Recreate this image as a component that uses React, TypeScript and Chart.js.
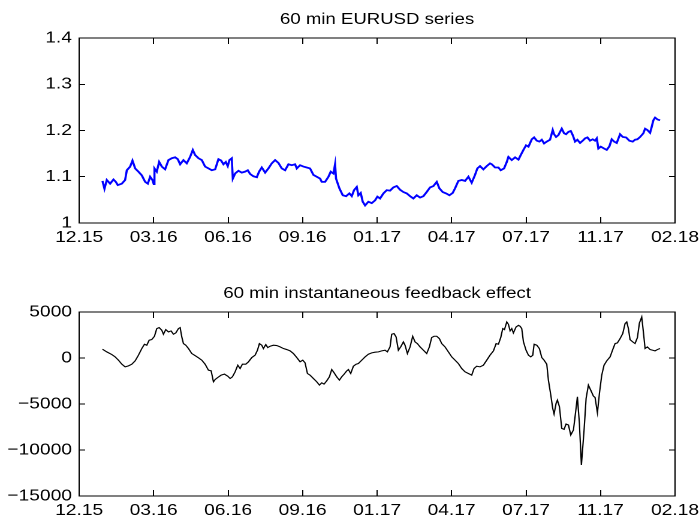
import React, { useEffect, useRef } from 'react';
import { Chart, registerables } from 'chart.js';

Chart.register(...registerables);

// x-axis tick labels (evenly spaced positions 0..8)
const dateLabels = ['12.15', '03.16', '06.16', '09.16', '01.17', '04.17', '07.17', '11.17', '02.18'];

// ---- 60 min EURUSD series ----
const eurusdTime = [
  0.313, 0.340, 0.371, 0.416, 0.461, 0.492, 0.519, 0.573, 0.617, 0.640, 0.685, 0.716, 0.752, 0.796, 0.841,
  0.886, 0.922, 0.953, 0.984, 1.002, 1.011, 1.042, 1.074, 1.110, 1.154, 1.199, 1.244, 1.289, 1.324, 1.356,
  1.400, 1.445, 1.490, 1.526, 1.557, 1.602, 1.647, 1.691, 1.736, 1.781, 1.826, 1.870, 1.906, 1.937, 1.969,
  1.995, 2.018, 2.049, 2.063, 2.094, 2.139, 2.183, 2.228, 2.264, 2.295, 2.340, 2.385, 2.416, 2.452, 2.497,
  2.541, 2.586, 2.631, 2.675, 2.720, 2.765, 2.810, 2.855, 2.899,
  2.922, 2.966, 3.011, 3.056, 3.100, 3.145, 3.190, 3.235, 3.257, 3.302, 3.347, 3.378, 3.414, 3.436, 3.449,
  3.494, 3.539, 3.584, 3.628, 3.660, 3.691, 3.727, 3.749, 3.780, 3.807, 3.839, 3.883, 3.928, 3.973, 4.004,
  4.040, 4.085, 4.129, 4.174, 4.219, 4.264, 4.308, 4.353, 4.398, 4.443, 4.487, 4.532, 4.577, 4.622, 4.666,
  4.711, 4.756, 4.801, 4.836, 4.881, 4.926, 4.971, 5.015, 5.047, 5.091, 5.136, 5.181, 5.226, 5.270, 5.315,
  5.346, 5.382, 5.427, 5.472, 5.516,
  5.540, 5.584, 5.629, 5.660, 5.705, 5.741, 5.763, 5.808, 5.853, 5.898, 5.929, 5.965, 6.000, 6.032, 6.077,
  6.108, 6.144, 6.179, 6.211, 6.242, 6.278, 6.322, 6.358, 6.376, 6.403, 6.434, 6.479, 6.510, 6.537, 6.569,
  6.600, 6.627, 6.658, 6.689, 6.725, 6.761, 6.792, 6.824, 6.859, 6.895, 6.926, 6.949, 6.971, 7.003, 7.047,
  7.083, 7.119, 7.150, 7.182, 7.217, 7.262, 7.298, 7.343, 7.387, 7.432, 7.463, 7.495, 7.531, 7.575, 7.598,
  7.629, 7.665, 7.687, 7.709, 7.732, 7.763, 7.799,
];
const eurusdRate = [
  1.091, 1.074, 1.093, 1.085, 1.094, 1.089, 1.082, 1.085, 1.093, 1.114, 1.122, 1.135, 1.118, 1.111, 1.103,
  1.089, 1.085, 1.100, 1.093, 1.084, 1.118, 1.111, 1.132, 1.122, 1.116, 1.136, 1.140, 1.142, 1.138, 1.127,
  1.136, 1.129, 1.143, 1.158, 1.147, 1.140, 1.136, 1.122, 1.118, 1.114, 1.116, 1.138, 1.135, 1.127, 1.132,
  1.123, 1.136, 1.140, 1.096, 1.107, 1.113, 1.109, 1.111, 1.114, 1.106, 1.101, 1.099, 1.111, 1.120, 1.109,
  1.118, 1.129, 1.136, 1.130, 1.118, 1.114, 1.127, 1.125, 1.127,
  1.118, 1.125, 1.122, 1.120, 1.118, 1.104, 1.100, 1.096, 1.089, 1.089, 1.100, 1.111, 1.107, 1.127, 1.096,
  1.075, 1.060, 1.058, 1.064, 1.058, 1.071, 1.078, 1.060, 1.065, 1.046, 1.038, 1.046, 1.043, 1.049, 1.057,
  1.053, 1.064, 1.071, 1.070, 1.077, 1.080, 1.072, 1.067, 1.064, 1.058, 1.053, 1.060, 1.055, 1.058, 1.067,
  1.077, 1.080, 1.089, 1.075, 1.067, 1.064, 1.060, 1.065, 1.075, 1.091, 1.093, 1.091, 1.100, 1.087, 1.104,
  1.118, 1.123, 1.116, 1.123, 1.129,
  1.127, 1.120, 1.120, 1.114, 1.118, 1.132, 1.143, 1.136, 1.142, 1.137, 1.147, 1.158, 1.168, 1.165, 1.181,
  1.185, 1.178, 1.176, 1.180, 1.172, 1.176, 1.180, 1.201, 1.192, 1.186, 1.190, 1.204, 1.194, 1.192, 1.197,
  1.199, 1.190, 1.176, 1.180, 1.173, 1.178, 1.183, 1.185, 1.178, 1.181, 1.178, 1.183, 1.161, 1.165, 1.161,
  1.158, 1.166, 1.181, 1.176, 1.173, 1.192, 1.186, 1.185, 1.178, 1.176, 1.180, 1.181, 1.186, 1.194, 1.204,
  1.201, 1.195, 1.208, 1.222, 1.228, 1.224, 1.222,
];

// ---- 60 min instantaneous feedback effect ----
const feedbackTime = [
  0.313, 0.371, 0.439, 0.483, 0.528, 0.573, 0.617, 0.662, 0.707, 0.752, 0.796, 0.841, 0.877, 0.908, 0.940,
  0.975, 1.011, 1.042, 1.074, 1.110, 1.132, 1.163, 1.199, 1.235, 1.266, 1.298, 1.333, 1.356, 1.378, 1.400,
  1.432, 1.468, 1.512, 1.548, 1.602, 1.647, 1.691, 1.736, 1.772, 1.803, 1.826, 1.861, 1.906, 1.951, 1.995,
  2.027, 2.058, 2.094, 2.130, 2.161, 2.192, 2.237, 2.273, 2.318, 2.362, 2.394, 2.420, 2.452, 2.474, 2.506,
  2.532, 2.564, 2.608, 2.653, 2.698, 2.743, 2.787, 2.832,
  2.877, 2.922, 2.966, 3.002, 3.033, 3.065, 3.100, 3.145, 3.190, 3.226, 3.257, 3.288, 3.324, 3.360, 3.391,
  3.423, 3.458, 3.494, 3.525, 3.557, 3.593, 3.615, 3.646, 3.682, 3.718, 3.749, 3.794, 3.839, 3.883, 3.928,
  3.973, 4.018, 4.062, 4.107, 4.138, 4.174, 4.196, 4.228, 4.255, 4.286, 4.317, 4.353, 4.375, 4.407, 4.443,
  4.478, 4.510, 4.541, 4.577, 4.613, 4.644, 4.666, 4.702, 4.733, 4.765, 4.801, 4.836, 4.868, 4.912, 4.957,
  5.002, 5.047, 5.091, 5.136, 5.181, 5.226, 5.270, 5.302, 5.337, 5.382, 5.427, 5.472, 5.516,
  5.562, 5.598, 5.629, 5.660, 5.687, 5.710, 5.741, 5.763, 5.786, 5.808, 5.830, 5.866, 5.898, 5.920, 5.942,
  5.965, 6.000, 6.032, 6.063, 6.090, 6.108, 6.144, 6.179, 6.211, 6.242, 6.278, 6.300, 6.332, 6.358, 6.376,
  6.403, 6.421, 6.448, 6.479, 6.510, 6.537, 6.569, 6.600, 6.636, 6.658, 6.689, 6.716, 6.743, 6.779, 6.806,
  6.837, 6.868, 6.904, 6.926, 6.958, 6.985, 7.016, 7.047, 7.083, 7.128, 7.164, 7.195, 7.226, 7.262, 7.298,
  7.329, 7.352, 7.374, 7.396, 7.432, 7.463, 7.495, 7.522, 7.553, 7.575, 7.598, 7.629, 7.665, 7.701, 7.732,
  7.763, 7.799,
];
const feedbackValue = [
  954, 665, 376, 123, -238, -672, -962, -853, -672, -311, 304, 1027, 1497, 1388, 1931,
  2003, 2364, 3196, 3304, 3015, 2581, 3087, 2834, 2943, 2581, 2726, 3196, 3304, 2292, 1569,
  1388, 1027, 484, 304, 15, -238, -672, -1323, -1395, -2588, -2335, -2118, -1865, -1757, -1974,
  -2227, -2046, -1504, -781, -1142, -672, -672, -419, 51, 304, 846, 1569, 1388, 1027, 1461,
  1136, 1280, 1388, 1352, 1208, 1027, 918, 774,
  484, 51, -419, -238, -528, -1685, -1865, -2227, -2588, -2950, -2697, -2841, -2480, -2046, -1251,
  -1612, -2046, -2407, -2046, -1757, -1395, -1251, -1685, -889, -672, -600, -238, 123, 412, 557,
  629, 665, 774, 846, 665, 1208, 2581, 2653, 2292, 846, 1208, 1750, 1388, 484, 1208,
  2364, 1750, 1569, 1208, 918, 665, 484, 1208, 2220, 2364, 2364, 2111, 1569, 1208, 665,
  123, -238, -600, -1142, -1504, -1685, -1865, -1142, -889, -962, -781, -238, 304,
  774, 1569, 1497, 2220, 3196, 3087, 3919, 3666, 2943, 3196, 2726, 3377, 3557, 3449, 3196,
  1750, 846, 304, 123, 304, 1497, 1388, 1027, 51, -238, -672, -2407, -4034, -5480, -6094,
  -4938, -4577, -5300, -7649, -7758, -7180, -7288, -8372, -7830, -6384, -4215, -7107, -11626, -7830, -4396,
  -2950, -3492, -4143, -4287, -5950, -3854, -1865, -781, -311, 123, 918, 1569, 1641, 2111, 2653,
  3738, 3919, 3196, 2003, 1750, 1569, 2220, 3811, 4461, 2834, 1027, 1208, 918, 846, 774,
  918, 1027,
];

const rateRange = { min: 1, max: 1.4, step: 0.1 };
const feedbackRange = { min: -15000, max: 5000, step: 5000 };

const FONT = '"Liberation Sans", Arial, Helvetica, sans-serif';
const CANVAS_W = 583; // drawn narrower and stretched to 699 px like the reference
const CANVAS_H = 262;

const subplotTitle = {
  id: 'subplotTitle',
  afterDraw(chart: any, _args: any, opts: any) {
    const { ctx, chartArea } = chart;
    ctx.save();
    ctx.font = `15.5px ${FONT}`;
    ctx.fillStyle = '#000';
    ctx.textAlign = 'center';
    ctx.textBaseline = 'alphabetic';
    ctx.fillText(opts.text, (chartArea.left + chartArea.right) / 2, opts.y);
    ctx.restore();
  },
};

function buildConfig(
  times: number[],
  values: number[],
  color: string,
  width: number,
  range: { min: number; max: number; step: number },
  yFormat: (v: number) => string,
  title: string,
  titleY: number,
  padTop: number,
  xAxisH: number
): any {
  const axisColor = '#000';
  return {
    type: 'line',
    data: {
      datasets: [
        {
          data: times.map((t, i) => ({ x: t, y: values[i] })),
          borderColor: color,
          borderWidth: width,
          pointRadius: 0,
          tension: 0,
          fill: false,
        },
      ],
    },
    plugins: [subplotTitle],
    options: {
      animation: false,
      responsive: false,
      devicePixelRatio: 2,
      layout: { padding: { left: 0, right: 20, top: padTop, bottom: 0 } },
      plugins: {
        legend: { display: false },
        tooltip: { enabled: false },
        title: { display: false },
        subplotTitle: { text: title, y: titleY },
      },
      scales: {
        x: {
          type: 'linear',
          position: 'bottom',
          min: 0,
          max: dateLabels.length - 1,
          ticks: {
            stepSize: 1,
            padding: 11,
            color: '#000',
            font: { family: FONT, size: 16 },
            maxRotation: 0,
            autoSkip: false,
            callback: (v: number) => dateLabels[Math.round(v)] ?? '',
          },
          grid: { drawOnChartArea: false, tickLength: -6, color: axisColor, lineWidth: 1 },
          border: { display: true, color: axisColor, width: 1 },
          afterFit: (s: any) => {
            s.height = xAxisH;
            s.paddingLeft = 0;
            s.paddingRight = 0;
          },
        },
        xTop: {
          type: 'linear',
          position: 'top',
          min: 0,
          max: dateLabels.length - 1,
          ticks: { stepSize: 1, display: false },
          grid: { drawOnChartArea: false, tickLength: -6, color: axisColor, lineWidth: 1 },
          border: { display: true, color: axisColor, width: 1 },
          afterFit: (s: any) => {
            s.height = 0;
            s.paddingLeft = 0;
            s.paddingRight = 0;
          },
        },
        y: {
          type: 'linear',
          position: 'left',
          min: range.min,
          max: range.max,
          ticks: {
            stepSize: range.step,
            padding: 11,
            color: '#000',
            font: { family: FONT, size: 16 },
            callback: (v: number) => yFormat(v),
          },
          grid: { drawOnChartArea: false, tickLength: -5, color: axisColor, lineWidth: 1 },
          border: { display: true, color: axisColor, width: 1 },
          afterFit: (s: any) => {
            s.width = 66;
            s.paddingTop = 0;
            s.paddingBottom = 0;
          },
        },
        yRight: {
          type: 'linear',
          position: 'right',
          min: range.min,
          max: range.max,
          ticks: { stepSize: range.step, display: false },
          grid: { drawOnChartArea: false, tickLength: -5, color: axisColor, lineWidth: 1 },
          border: { display: true, color: axisColor, width: 1 },
          afterFit: (s: any) => {
            s.width = 0;
            s.paddingTop = 0;
            s.paddingBottom = 0;
          },
        },
      },
    },
  };
}

export default function App() {
  const topRef = useRef<HTMLCanvasElement | null>(null);
  const bottomRef = useRef<HTMLCanvasElement | null>(null);

  useEffect(() => {
    if (!topRef.current || !bottomRef.current) return;
    const top = new Chart(
      topRef.current,
      buildConfig(
        eurusdTime,
        eurusdRate,
        '#0000ff',
        1.8,
        rateRange,
        (v) => String(Math.round(v * 10) / 10),
        '60 min EURUSD series',
        24,
        38,
        39
      )
    );
    const bottom = new Chart(
      bottomRef.current,
      buildConfig(
        feedbackTime,
        feedbackValue,
        '#000000',
        1.1,
        feedbackRange,
        (v) => (v < 0 ? '\u2212' + Math.abs(v) : String(v)),
        '60 min instantaneous feedback effect',
        36,
        50,
        28
      )
    );
    return () => {
      top.destroy();
      bottom.destroy();
    };
  }, []);

  return (
    <div style={{ position: 'absolute', left: 0, top: 0, width: 699, height: 524, background: '#fff' }}>
      <canvas
        ref={topRef}
        width={CANVAS_W}
        height={CANVAS_H}
        style={{ display: 'block', width: '699px', height: '262px' }}
      />
      <canvas
        ref={bottomRef}
        width={CANVAS_W}
        height={CANVAS_H}
        style={{ display: 'block', width: '699px', height: '262px' }}
      />
    </div>
  );
}
